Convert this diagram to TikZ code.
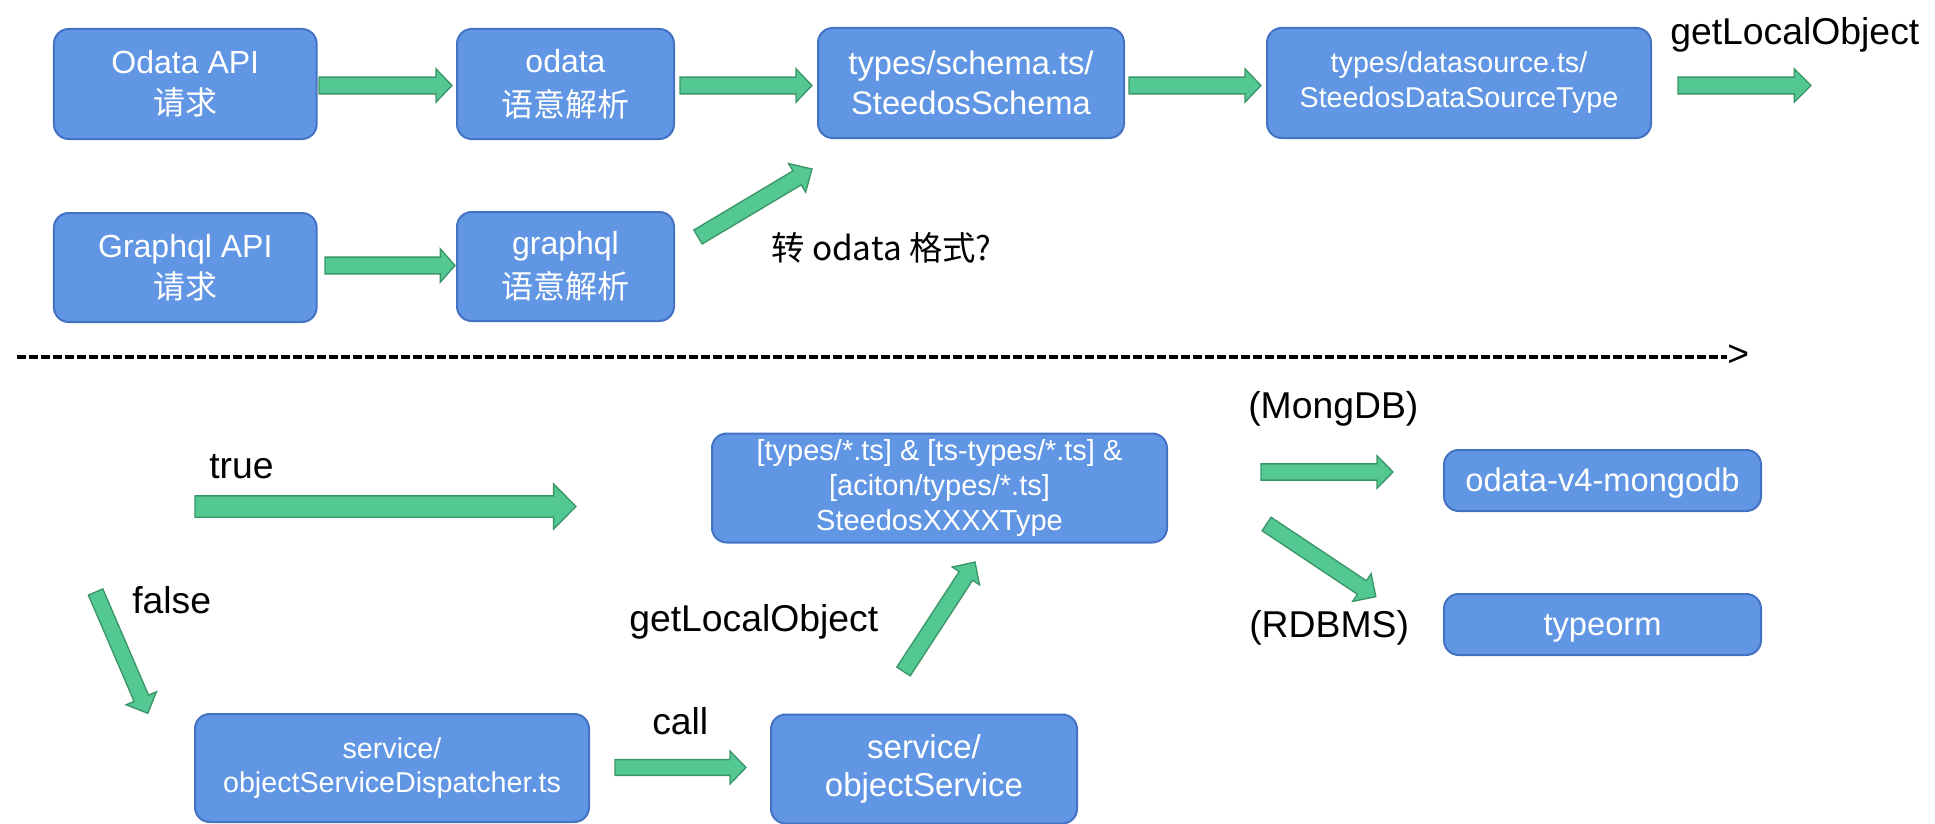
\documentclass[tikz,border=0pt]{standalone}
\usepackage{fontspec}
\setmainfont{Liberation Sans}
\newfontfamily\cjk{Noto Sans CJK SC}
\usetikzlibrary{calc}
\definecolor{boxfill}{RGB}{96,150,227}
\definecolor{boxline}{RGB}{68,114,196}
\definecolor{arrfill}{RGB}{84,200,146}
\definecolor{arrline}{RGB}{58,150,102}
\tikzset{
  box/.style={draw=boxline, fill=boxfill, line width=1.5pt, rounded corners=11pt,
    text=white, align=center, inner sep=0pt},
  oneline/.style={text height=18pt, text depth=1.5pt},
  lbl/.style={anchor=base west, inner sep=0pt, font=\fontsize{28}{30}\selectfont},
  blk/.style={fill=arrfill, draw=arrline, line width=1pt, line join=miter},
  sepline/.style={line width=2.4pt, dash pattern=on 6.6pt off 2.4pt},
}
\newcommand\blockarr[5]{% tail, tip, half shaft, half head, head length
  \coordinate (bahead) at ($(#2)!#5!(#1)$);
  \filldraw[blk] ($(#1)!#3!90:(#2)$) -- ($(bahead)!#3!90:(#2)$) -- ($(bahead)!#4!90:(#2)$)
    -- (#2) -- ($(bahead)!#4!-90:(#2)$) -- ($(bahead)!#3!-90:(#2)$) -- ($(#1)!#3!-90:(#2)$) -- cycle;
}
\begin{document}
\begin{tikzpicture}[x=0.75pt, y=-0.75pt]
\useasboundingbox (0,0) rectangle (1935,824);

% ---- boxes ----
\node[box, minimum width=197pt, minimum height=82.5pt, font=\fontsize{24}{31}\selectfont]
  (oapi) at (185.3,84) {Odata API\\{\cjk 请求}};
\node[box, minimum width=162.75pt, minimum height=82.5pt, font=\fontsize{24}{33}\selectfont]
  (odata) at (565.5,84) {odata\\{\cjk 语意解析}};
\node[box, minimum width=197pt, minimum height=81.75pt, font=\fontsize{24}{31}\selectfont]
  (gapi) at (185.3,267.5) {Graphql API\\{\cjk 请求}};
\node[box, minimum width=162.75pt, minimum height=81.75pt, font=\fontsize{24}{33}\selectfont]
  (gql) at (565.5,266.5) {graphql\\{\cjk 语意解析}};
\node[box, minimum width=229.5pt, minimum height=82.5pt, font=\fontsize{24.5}{30}\selectfont]
  (schema) at (971,83) {types/schema.ts/\\SteedosSchema};
\node[box, minimum width=288pt, minimum height=82.5pt, font=\fontsize{21.5}{26.25}\selectfont]
  (ds) at (1459,83) {types/datasource.ts/\\SteedosDataSourceType};
\node[box, minimum width=341.25pt, minimum height=81.75pt, font=\fontsize{21.75}{26.25}\selectfont]
  (xxxx) at (939.5,488) {[types/*.ts] \& [ts-types/*.ts] \&\\{[}aciton/types/*.ts{]}\\SteedosXXXXType};
\node[box, minimum width=295.5pt, minimum height=81pt, font=\fontsize{21.5}{26}\selectfont]
  (disp) at (392,768) {service/\\objectServiceDispatcher.ts};
\node[box, minimum width=229.5pt, minimum height=81.75pt, font=\fontsize{24.75}{29}\selectfont]
  (osvc) at (924,769) {service/\\objectService};
\node[box, oneline, minimum width=237.75pt, minimum height=45.75pt, font=\fontsize{24.5}{28}\selectfont]
  (mongo) at (1602.5,480.5) {odata-v4-mongodb};
\node[box, oneline, minimum width=237.75pt, minimum height=45.75pt, font=\fontsize{24.5}{28}\selectfont]
  (typeorm) at (1602.5,624.5) {typeorm};

% ---- labels ----
\node[lbl] (glotop) at (1670,45) {getLocalObject};
\node[lbl, font=\cjk\fontsize{25}{28}\selectfont] (conv) at (771,260) {转 odata 格式?};
\node[lbl] (true) at (209,478) {true};
\node[lbl] (false) at (132,613) {false};
\node[lbl] (globot) at (629,631) {getLocalObject};
\node[lbl] (call) at (652,734) {call};
\node[lbl] (mongolbl) at (1248,418) {(MongDB)};
\node[lbl] (rdbmslbl) at (1249,637) {(RDBMS)};

% ---- separator ----
\coordinate (sepL) at (17,357);
\node[lbl] (sepR) at (1727,366.5) {>};
\draw[sepline] (sepL) -- (sepL -| sepR.west);

% ---- block arrows ----
\coordinate (a1s) at (319,85.5);   \coordinate (a1e) at (452,85.5);
\coordinate (a2s) at (325,265.5);  \coordinate (a2e) at (455,265.5);
\coordinate (a3s) at (680,85.5);   \coordinate (a3e) at (812,85.5);
\coordinate (a4s) at (1129,85.5);  \coordinate (a4e) at (1261,85.5);
\coordinate (a5s) at (1678,85.5);  \coordinate (a5e) at (1811,85.5);
\coordinate (a6s) at (698,237); \coordinate (a6e) at (812,169);
\coordinate (a7s) at (195,506.5);  \coordinate (a7e) at (576,506.5);
\coordinate (a8s) at (95.6,592);   \coordinate (a8e) at (147.8,713.3);
\coordinate (a9s) at (615,767.5);  \coordinate (a9e) at (746,767.5);
\coordinate (a10s) at (903.5,671.5); \coordinate (a10e) at (975,562);
\coordinate (a11s) at (1261,472);  \coordinate (a11e) at (1393,472);
\coordinate (a12s) at (1266.6,524); \coordinate (a12e) at (1375.8,596.7);

\blockarr{a1s}{a1e}{6.3pt}{12.5pt}{12pt}
\blockarr{a2s}{a2e}{6.3pt}{12.5pt}{11pt}
\blockarr{a3s}{a3e}{6.3pt}{12.5pt}{12pt}
\blockarr{a4s}{a4e}{6.3pt}{12.5pt}{12pt}
\blockarr{a5s}{a5e}{6.3pt}{12.5pt}{12.5pt}
\blockarr{a6s}{a6e}{6.1pt}{12.5pt}{13pt}
\blockarr{a7s}{a7e}{8pt}{16.9pt}{16.8pt}
\blockarr{a8s}{a8e}{5.9pt}{12.4pt}{12.3pt}
\blockarr{a9s}{a9e}{5.9pt}{12.4pt}{12pt}
\blockarr{a10s}{a10e}{6pt}{12.2pt}{12.5pt}
\blockarr{a11s}{a11e}{6.1pt}{12.2pt}{12pt}
\blockarr{a12s}{a12e}{6.1pt}{12.5pt}{12.5pt}
\end{tikzpicture}
\end{document}
